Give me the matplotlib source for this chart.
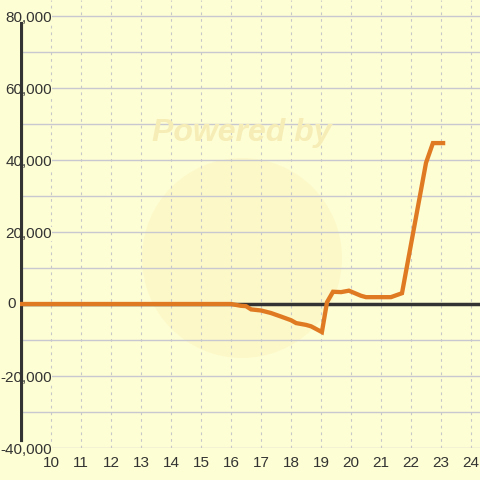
import matplotlib
matplotlib.use("Agg")
import matplotlib.pyplot as plt
from matplotlib.patches import Circle
from matplotlib.ticker import FuncFormatter, MultipleLocator

# Data
x_vals = [9.0, 16.0, 16.33, 16.5, 16.67, 17.0, 17.33, 17.67, 18.0, 18.17, 18.5, 18.67,
          19.03, 19.2, 19.4, 19.67, 19.93, 20.33, 20.5, 21.33, 21.7, 22.5, 22.73, 23.07]
y_vals = [0, 0, -500, -600, -1500, -1800, -2500, -3500, -4500, -5300, -5800, -6200,
          -7800, 500, 3400, 3300, 3700, 2300, 1900, 1900, 3000, 39200, 44700, 44700]
x_ticks = list(range(10, 25))
y_ticks = [-40000, -20000, 0, 20000, 40000, 60000, 80000]

BG = "#fefed4"
fig = plt.figure(figsize=(4.8, 4.8), dpi=100, facecolor=BG)
ax = fig.add_axes([20 / 480, 32 / 480, 460 / 480, 448 / 480])
ax.set_facecolor(BG)

ymin, ymax = -40000, 80000 + 16 / 72 * 20000
xmin, xmax = 10 - 31 / 30, 10 + (480 - 51) / 30
ax.set_xlim(xmin, xmax)
ax.set_ylim(ymin, ymax)

# watermark
ax.add_patch(Circle((242 / 480, 1 - 258 / 480), 100 / 480, transform=fig.transFigure,
                    facecolor="#fcf6c4", edgecolor="none", alpha=0.7, zorder=0.1))
fig.text(242 / 480, 1 - 133 / 480, "Powered by", ha="center", va="center",
         fontsize=23, fontweight="bold", style="italic", color="#f6edb6",
         family="Liberation Sans", zorder=0.2)

# grids
ax.set_axisbelow(True)
ax.yaxis.set_major_locator(MultipleLocator(20000))
ax.yaxis.set_minor_locator(MultipleLocator(10000))
ax.grid(axis="y", which="both", color="#c8c8d0", linewidth=1, linestyle="-")
ax.set_xticks(x_ticks)
ax.grid(axis="x", which="major", color="#c8c8c8", linewidth=0.8, linestyle=(0, (2.5, 3.5)))

for s in ax.spines.values():
    s.set_visible(False)

# zero line and y axis line
ax.axhline(0, color="#333333", linewidth=2.5, zorder=2)
ax.axvline(xmin + 0.02, ymin=8 / 448, ymax=(448 - 24) / 448,
           color="#333333", linewidth=3, zorder=2)

ax.plot(x_vals, y_vals, color="#e07a22", linewidth=3.1, solid_joinstyle="miter", zorder=3)

ax.set_yticks(y_ticks)
ax.yaxis.set_major_formatter(FuncFormatter(lambda v, p: "" if v == 0 else f"{int(v):,}"))
ax.tick_params(axis="both", which="both", length=0, labelsize=11, labelcolor="#333333")
ax.tick_params(axis="y", pad=-23)
ax.tick_params(axis="x", pad=6)
for lab in ax.get_yticklabels():
    lab.set_family("Liberation Sans")
    lab.set_bbox(dict(facecolor=BG, edgecolor="none", pad=0))
    lab.set_zorder(5)
for lab in ax.get_xticklabels():
    lab.set_family("Liberation Sans")

# the zero label sits left of the axis line
ax.annotate("0", xy=(0, 0), xycoords=("axes fraction", "data"), xytext=(-4, 0),
            textcoords="offset pixels", ha="right", va="center", fontsize=11,
            color="#333333", family="Liberation Sans", annotation_clip=False)

fig.savefig("out.png", dpi=100, facecolor=BG)
